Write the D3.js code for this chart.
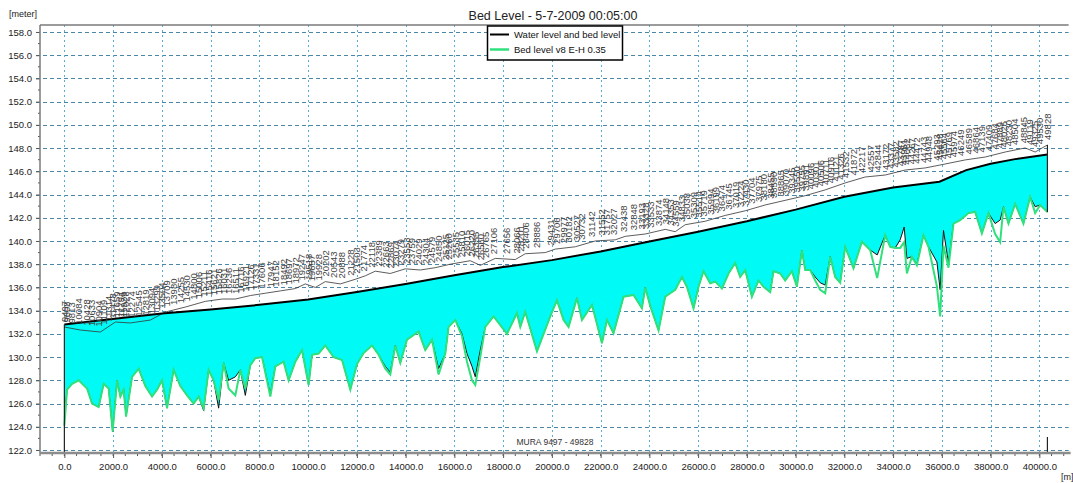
<!DOCTYPE html>
<html>
<head>
<meta charset="utf-8">
<script src="https://cdn.jsdelivr.net/npm/d3@7"></script>
<style>
body { margin: 0; background: #fff; }
svg { display: block; font-family: "Liberation Sans", Arial, sans-serif; }
</style>
</head>
<body>
<svg id="chart" width="1073" height="483"></svg>
<script>
// branch MURA, chainage 9497 - 49828, distances from branch start [m]
var startChainage = 9497;

var dist = [0, 111, 316, 587, 931, 1136, 1407, 1612, 1817, 1981, 2162, 2297, 2432, 2531, 2777, 3048, 3322, 3597, 3802, 4007,
  4212, 4483, 4758, 5033, 5303, 5509, 5714, 5919, 6124, 6329, 6534, 6739, 7014, 7219, 7424, 7629, 7834, 8109, 8450, 8655,
  8995, 9200, 9475, 9750, 10021, 10160, 10431, 10705, 11046, 11391, 11731, 12006, 12277, 12621, 12892, 13166, 13372, 13577, 13782, 14056,
  14262, 14532, 14807, 15082, 15353, 15628, 15763, 16038, 16313, 16518, 16723, 16858, 17063, 17268, 17609, 18159, 18569, 18704, 18909, 19389,
  19934, 20209, 20480, 20685, 21030, 21235, 21645, 22055, 22260, 22530, 22941, 23351, 23696, 23831, 24036, 24377, 24651, 24856, 25062, 25336,
  25541, 25812, 26017, 26222, 26497, 26702, 26977, 27248, 27522, 27727, 27933, 28207, 28478, 28683, 28958, 29093, 29368, 29573, 29848, 30053,
  30258, 30394, 30599, 30804, 31009, 31214, 31419, 31624, 31829, 32035, 32375, 32720, 33060, 33347, 33675, 33880, 34085, 34290, 34454, 34565,
  34770, 34975, 35246, 35451, 35796, 35931, 36067, 36272, 36477, 36752, 37092, 37367, 37642, 37912, 38187, 38392, 38528, 38733, 39007, 39348,
  39622, 39828, 40033, 40331];

// bed level (black) [m]
var bedLevel = [124.8, 127.2, 127.7, 128.0, 127.3, 126.0, 125.7, 127.7, 127.3, 123.6, 128.0, 126.6, 127.2, 124.9, 128.3, 129.0, 127.5, 126.6, 127.2, 128.0,
  125.6, 128.9, 127.5, 126.7, 126.0, 126.6, 125.4, 128.9, 128.0, 125.6, 129.5, 128.0, 128.3, 128.9, 126.7, 129.3, 129.9, 130.0, 126.8, 129.2,
  129.6, 128.0, 129.6, 130.6, 127.6, 130.2, 130.3, 131.0, 130.0, 129.75, 127.2, 129.4, 130.35, 131.0, 130.2, 129.2, 128.7, 131.0, 129.5, 131.5,
  131.8, 132.2, 130.6, 131.5, 129.0, 130.3, 132.6, 133.2, 132.0, 130.3, 129.2, 128.3, 130.6, 132.6, 133.5, 132.0, 133.8, 132.6, 133.9, 130.5,
  133.5, 134.9, 133.2, 132.6, 135.1, 133.2, 134.5, 131.2, 133.2, 132.05, 135.2, 135.35, 134.2, 136.0, 134.4, 132.3, 135.2, 135.5, 135.8, 136.9,
  136.06, 134.2, 136.06, 137.4, 136.35, 136.5, 135.9, 137.2, 138.1, 136.9, 137.5, 135.2, 136.6, 136.06, 135.6, 137.4, 137.2, 136.6, 137.4, 136.06,
  139.2, 137.5, 137.5, 136.9, 136.4, 136.2, 138.65, 136.9, 136.4, 139.5, 137.65, 139.94, 139.22, 138.8, 140.5, 139.5, 139.4, 140.1, 141.2, 138.5,
  138.65, 138.0, 140.5, 139.5, 138.2, 135.8, 140.9, 138.1, 141.5, 141.8, 142.4, 142.5, 140.65, 142.4, 141.5, 141.8, 142.95, 141.5, 143.2, 141.5,
  143.8, 142.95, 143.1, 142.5];

// bed level v8 E-H 0.35 (green) [m]
var bedLevelV8 = [124.1, 127.2, 127.7, 128.0, 127.3, 126.0, 125.7, 127.7, 127.3, 123.6, 128.0, 126.6, 127.2, 124.9, 128.3, 129.0, 127.5, 126.6, 127.2, 128.0,
  125.6, 128.9, 127.5, 126.7, 126.0, 126.6, 125.6, 128.9, 128.0, 126.3, 129.5, 127.3, 126.7, 128.9, 127.3, 129.3, 129.9, 130.0, 126.6, 129.2,
  129.6, 128.0, 129.6, 130.6, 127.6, 130.2, 130.3, 131.0, 130.0, 129.75, 127.2, 129.4, 130.35, 131.0, 130.2, 129.0, 128.5, 131.0, 129.5, 131.5,
  131.8, 132.2, 130.6, 131.5, 128.5, 130.3, 132.6, 133.2, 131.8, 129.6, 128.0, 127.6, 130.0, 132.6, 133.5, 132.0, 133.8, 132.6, 133.9, 130.5,
  133.5, 134.9, 133.2, 132.6, 135.1, 133.2, 134.5, 131.2, 133.2, 132.05, 135.2, 135.35, 134.2, 136.0, 134.4, 132.3, 135.2, 135.5, 135.8, 136.9,
  136.06, 134.2, 136.06, 137.4, 136.35, 136.5, 135.9, 137.2, 138.1, 136.9, 137.5, 135.2, 136.6, 136.06, 135.6, 137.4, 137.2, 136.6, 137.4, 136.06,
  139.2, 137.5, 137.5, 136.6, 135.8, 135.5, 138.65, 136.9, 136.4, 139.5, 137.65, 139.94, 139.22, 136.8, 140.5, 139.5, 139.4, 139.4, 139.9, 137.2,
  138.65, 137.9, 140.5, 139.5, 136.1, 133.5, 139.6, 137.7, 141.5, 141.8, 142.4, 142.5, 140.65, 142.4, 140.6, 139.9, 142.95, 141.5, 143.2, 141.5,
  143.8, 142.4, 143.1, 142.5];

// water level
var wlDist = [0, 1600, 4000, 6000, 8000, 10000, 12000, 14000, 16000, 18000, 20000, 22000, 24000, 26000, 28000, 30000, 32000, 34000, 35900, 37000, 38000, 39000, 40331];
var wlLevel = [132.8, 133.2, 133.75, 134.1, 134.5, 134.95, 135.6, 136.3, 137.05, 137.75, 138.35, 139.1, 139.95, 140.8, 141.7, 142.7, 143.8, 144.6, 145.1, 146.1, 146.65, 147.05, 147.45];

// bank level (thin line above the water)
var bankDist = [0, 656, 1477, 2092, 2707, 3527, 4143, 4963, 5783, 6481, 7014, 7629, 8244, 8860, 9475, 9885, 10295, 10705, 11321, 11936,
  12346, 12756, 13372, 13987, 14602, 15217, 15833, 16653, 17063, 17678, 18499, 18909, 19729, 20139, 20960, 21780, 22600, 23011, 23831, 24651,
  25062, 25472, 26292, 27112, 27933, 28753, 29573, 30394, 31214, 32035, 32855, 33675, 34496, 35316, 36136, 36957, 37777, 38597, 39418, 39828, 40331];
var bankLevel = [132.59, 132.33, 132.16, 133.02, 132.94, 133.19, 133.88, 134.31, 134.8, 135.0, 135.0, 135.3, 135.5, 135.7, 135.9, 136.3, 136.0, 136.5, 136.3, 136.7,
  137.0, 137.4, 137.2, 137.6, 137.5, 137.7, 138.0, 138.3, 137.9, 138.5, 138.4, 138.9, 139.0, 139.3, 139.5, 140.0, 140.1, 140.4, 140.6, 141.0,
  140.8, 141.4, 141.7, 142.2, 142.6, 143.1, 143.5, 143.9, 144.4, 145.0, 145.51, 145.68, 146.11, 146.29, 146.63, 146.98, 147.23, 147.66, 148.01, 147.66, 148.27];

var yTicks = [122, 124, 126, 128, 130, 132, 134, 136, 138, 140, 142, 144, 146, 148, 150, 152, 154, 156, 158];
var xTicks = [0, 2000, 4000, 6000, 8000, 10000, 12000, 14000, 16000, 18000, 20000, 22000, 24000, 26000, 28000, 30000, 32000, 34000, 36000, 38000, 40000];

var plotLeft = 40, plotRight = 1068.6, plotTop = 25, plotBottom = 453;
var svg = d3.select("#chart");

var x = d3.scaleLinear().domain([-1000, 41200]).range([plotLeft, plotRight]);
var y = d3.scaleLinear().domain([121.74, 158.6]).range([plotBottom, plotTop]);
var wlAt = d3.scaleLinear().domain(wlDist).range(wlLevel);
var bankAt = d3.scaleLinear().domain(bankDist).range(bankLevel);

var rows = dist.map(function(d, i) {
  return {d: d, bed: bedLevel[i], v8: bedLevelV8[i], wl: wlAt(d)};
});

// grid
svg.append("g").selectAll("line").data(yTicks).join("line")
  .attr("x1", plotLeft - 4).attr("x2", plotRight)
  .attr("y1", function(d) { return Math.round(y(d)) + 0.5; })
  .attr("y2", function(d) { return Math.round(y(d)) + 0.5; })
  .attr("stroke", "#4a86a8").attr("stroke-dasharray", "4,3");
svg.append("g").selectAll("line").data(xTicks).join("line")
  .attr("x1", function(d) { return Math.round(x(d)) + 0.5; })
  .attr("x2", function(d) { return Math.round(x(d)) + 0.5; })
  .attr("y1", plotTop).attr("y2", plotBottom)
  .attr("stroke", "#5aaed4").attr("stroke-dasharray", "2,3");

// water body
svg.append("path").datum(rows)
  .attr("fill", "#00fbf6")
  .attr("d", d3.area()
    .x(function(r) { return x(r.d); })
    .y0(function(r) { return y(r.bed); })
    .y1(function(r) { return y(r.wl); }));

// bank line
svg.append("path").datum(bankDist)
  .attr("fill", "none").attr("stroke", "#333").attr("stroke-width", 0.8)
  .attr("d", d3.line()
    .x(function(d) { return x(d); })
    .y(function(d, i) { return y(bankLevel[i]); }));

// bed level black
svg.append("path").datum(rows)
  .attr("fill", "none").attr("stroke", "#111").attr("stroke-width", 1)
  .attr("d", d3.line().x(function(r) { return x(r.d); }).y(function(r) { return y(r.bed); }));

// bed level v8 green
svg.append("path").datum(rows)
  .attr("fill", "none").attr("stroke", "#30e07c").attr("stroke-width", 2)
  .attr("d", d3.line().x(function(r) { return x(r.d); }).y(function(r) { return y(r.v8); }));

// water level
svg.append("path").datum(wlDist)
  .attr("fill", "none").attr("stroke", "#000").attr("stroke-width", 2)
  .attr("d", d3.line()
    .x(function(d) { return x(d); })
    .y(function(d, i) { return y(wlLevel[i]); }));

// branch ends
var last = dist.length - 1;
svg.append("line")
  .attr("x1", x(0)).attr("x2", x(0))
  .attr("y1", y(wlLevel[0])).attr("y2", plotBottom)
  .attr("stroke", "#222").attr("stroke-width", 1.2);
svg.append("line")
  .attr("x1", x(dist[last])).attr("x2", x(dist[last]))
  .attr("y1", y(bankLevel[bankLevel.length - 1])).attr("y2", y(bedLevel[last]))
  .attr("stroke", "#222").attr("stroke-width", 1.2);
svg.append("line")
  .attr("x1", x(dist[last])).attr("x2", x(dist[last]))
  .attr("y1", plotBottom - 16).attr("y2", plotBottom)
  .attr("stroke", "#222").attr("stroke-width", 1.2);

// chainage labels
svg.append("g")
  .style("font-size", "9.5px").attr("fill", "#444")
  .selectAll("text").data(dist).join("text")
  .attr("transform", function(d) {
    return "translate(" + x(d) + "," + (y(bankAt(d)) - 5) + ")rotate(-90)";
  })
  .attr("dy", "0.35em")
  .text(function(d) { return startChainage + d; });

svg.append("text")
  .attr("x", 555).attr("y", 445)
  .attr("text-anchor", "middle")
  .style("font-size", "8.5px").attr("fill", "#333")
  .text("MURA  " + startChainage + " - " + (startChainage + dist[last]));

// axes
var xAxis = d3.axisBottom(x).tickValues(xTicks).tickFormat(d3.format(".1f")).tickSize(5).tickPadding(5);
var gx = svg.append("g").attr("transform", "translate(0," + plotBottom + ")").call(xAxis);
gx.select(".domain").remove();
gx.selectAll(".tick line").attr("stroke", "#555");
gx.selectAll(".tick text").style("font-size", "9.5px").attr("fill", "#222").style("font-family", "Liberation Sans, Arial, sans-serif");
svg.append("g").selectAll("line").data(d3.range(-1000, 41001, 500)).join("line")
  .attr("x1", function(d) { return x(d); }).attr("x2", function(d) { return x(d); })
  .attr("y1", plotBottom).attr("y2", plotBottom + 3).attr("stroke", "#555");

var yAxis = d3.axisLeft(y).tickValues(yTicks).tickFormat(d3.format(".1f")).tickSize(4).tickPadding(4);
var gy = svg.append("g").attr("transform", "translate(" + plotLeft + ",0)").call(yAxis);
gy.select(".domain").remove();
gy.selectAll(".tick line").attr("stroke", "#555");
gy.selectAll(".tick text").style("font-size", "9.5px").attr("fill", "#222").style("font-family", "Liberation Sans, Arial, sans-serif");
svg.append("g").selectAll("line").data(d3.range(123, 158, 2)).join("line")
  .attr("x1", plotLeft - 2).attr("x2", plotLeft)
  .attr("y1", function(d) { return y(d); }).attr("y2", function(d) { return y(d); })
  .attr("stroke", "#555");

// frame
svg.append("line").attr("x1", plotLeft).attr("x2", plotRight).attr("y1", plotTop).attr("y2", plotTop)
  .attr("stroke", "#7a7a7a").attr("stroke-width", 1.5);
svg.append("line").attr("x1", plotLeft).attr("x2", plotLeft).attr("y1", plotTop).attr("y2", plotBottom)
  .attr("stroke", "#7a7a7a").attr("stroke-width", 1.5);
svg.append("line").attr("x1", plotLeft).attr("x2", plotRight + 2).attr("y1", plotBottom).attr("y2", plotBottom)
  .attr("stroke", "#8c8c8c").attr("stroke-width", 2.5);

// titles
svg.append("text").attr("x", 553).attr("y", 20).attr("text-anchor", "middle")
  .style("font-size", "12.5px").attr("fill", "#222").text("Bed Level - 5-7-2009 00:05:00");
svg.append("text").attr("x", 9).attr("y", 17)
  .style("font-size", "9px").attr("fill", "#222").text("[meter]");
svg.append("text").attr("x", 1061).attr("y", 480)
  .style("font-size", "9px").attr("fill", "#222").text("[m]");

// legend
var lg = svg.append("g");
lg.append("rect").attr("x", 487.5).attr("y", 26).attr("width", 135).attr("height", 34)
  .attr("fill", "#fff").attr("stroke", "#000").attr("stroke-width", 1.5);
lg.append("line").attr("x1", 490).attr("x2", 509).attr("y1", 34.5).attr("y2", 34.5)
  .attr("stroke", "#000").attr("stroke-width", 2);
lg.append("line").attr("x1", 490).attr("x2", 509).attr("y1", 49.5).attr("y2", 49.5)
  .attr("stroke", "#30e07c").attr("stroke-width", 2.5);
lg.append("text").attr("x", 514).attr("y", 38).style("font-size", "9.5px").attr("fill", "#111")
  .text("Water level and bed level");
lg.append("text").attr("x", 514).attr("y", 53).style("font-size", "9.5px").attr("fill", "#111")
  .text("Bed level v8 E-H 0.35");
</script>
</body>
</html>
